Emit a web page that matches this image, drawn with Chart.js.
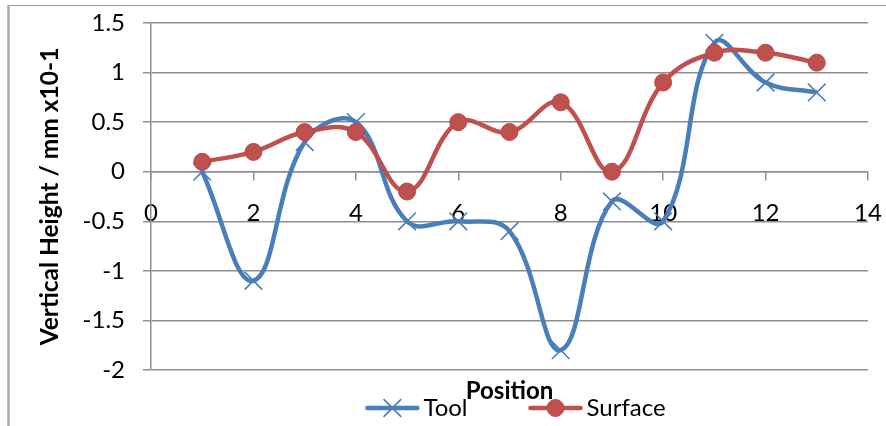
<!DOCTYPE html>
<html>
<head>
<meta charset="utf-8">
<script src="https://cdn.jsdelivr.net/npm/chart.js"></script>
<style>
  html, body { margin: 0; padding: 0; background: #ffffff; }
  #wrap { width: 886px; height: 426px; }
</style>
</head>
<body>
<div id="wrap"><canvas id="chart" width="886" height="426"></canvas></div>
<script>
// Measurement positions along the sample
const positions = [1, 2, 3, 4, 5, 6, 7, 8, 9, 10, 11, 12, 13];
// Tool profile height at each position (mm x10-1)
const toolHeights = [0, -1.1, 0.3, 0.5, -0.5, -0.5, -0.6, -1.8, -0.3, -0.5, 1.3, 0.9, 0.8];
// Machined surface height at each position (mm x10-1)
const surfaceHeights = [0.1, 0.2, 0.4, 0.4, -0.2, 0.5, 0.4, 0.7, 0, 0.9, 1.2, 1.2, 1.1];
// Axis ticks
const xTicks = [0, 2, 4, 6, 8, 10, 12, 14];
const yTicks = [-2, -1.5, -1, -0.5, 0, 0.5, 1, 1.5];
const seriesNames = ['Tool', 'Surface'];
const xAxisTitle = 'Position';
const yAxisTitle = 'Vertical Height / mm x10-1';

const FONT = 'Lato, "Open Sans", sans-serif';
const TEXT_SIZE = 24;
const GRID = '#8e8e8e';
const BLUE = '#4A7EBB';
const RED = '#C0504D';

function toPoints(xs, ys) {
  return xs.map((x, i) => ({ x: x, y: ys[i] }));
}

// Let the layout padding alone decide where the plot area sits
function clearLabelPadding(scale) {
  scale.paddingLeft = 0;
  scale.paddingRight = 0;
  scale.paddingTop = 0;
  scale.paddingBottom = 0;
}

// Outer chart frame (top and left edges)
const framePlugin = {
  id: 'frame',
  beforeDraw(chart) {
    const ctx = chart.ctx;
    ctx.save();
    ctx.strokeStyle = '#9d9d9d';
    ctx.lineWidth = 1.2;
    ctx.beginPath();
    ctx.moveTo(8, 5.5);
    ctx.lineTo(chart.width, 5.5);
    ctx.stroke();
    ctx.strokeStyle = '#ababab';
    ctx.lineWidth = 2.5;
    ctx.beginPath();
    ctx.moveTo(8.5, 5);
    ctx.lineTo(8.5, chart.height);
    ctx.stroke();
    ctx.restore();
  }
};

// Horizontal axis title under the plot
const xTitlePlugin = {
  id: 'xTitle',
  afterDraw(chart) {
    const { ctx, chartArea } = chart;
    ctx.save();
    ctx.font = 'bold ' + TEXT_SIZE + 'px ' + FONT;
    ctx.fillStyle = '#000000';
    ctx.textAlign = 'center';
    ctx.textBaseline = 'middle';
    ctx.fillText(xAxisTitle, (chartArea.left + chartArea.right) / 2, chartArea.bottom + 21);
    ctx.restore();
  }
};

// Legend showing a line sample with the series marker
const lineLegendPlugin = {
  id: 'lineLegend',
  afterDraw(chart) {
    const { ctx, chartArea } = chart;
    const lineLen = 54, textGap = 4, itemGap = 61;
    ctx.save();
    ctx.font = TEXT_SIZE + 'px ' + FONT;
    const items = chart.data.datasets.map(ds => ({ ds: ds, w: ctx.measureText(ds.label).width }));
    const total = items.reduce((s, it) => s + lineLen + textGap + it.w, 0) + itemGap * (items.length - 1);
    let x = (chartArea.left + chartArea.right) / 2 + 6 - total / 2;
    const y = chartArea.bottom + 38;
    items.forEach(({ ds, w }) => {
      ctx.strokeStyle = ds.borderColor;
      ctx.lineWidth = ds.borderWidth;
      ctx.lineCap = 'round';
      ctx.beginPath();
      ctx.moveTo(x + 2, y);
      ctx.lineTo(x + lineLen - 2, y);
      ctx.stroke();
      const cx = x + lineLen / 2;
      ctx.lineCap = 'butt';
      if (ds.pointStyle === 'circle') {
        ctx.fillStyle = ds.pointBackgroundColor;
        ctx.strokeStyle = ds.pointBorderColor;
        ctx.lineWidth = ds.pointBorderWidth;
        ctx.beginPath();
        ctx.arc(cx, y, ds.pointRadius, 0, Math.PI * 2);
        ctx.fill();
        ctx.stroke();
      } else {
        const d = ds.pointRadius * Math.SQRT1_2;
        ctx.strokeStyle = ds.pointBorderColor;
        ctx.lineWidth = ds.pointBorderWidth;
        ctx.beginPath();
        ctx.moveTo(cx - d, y - d); ctx.lineTo(cx + d, y + d);
        ctx.moveTo(cx - d, y + d); ctx.lineTo(cx + d, y - d);
        ctx.stroke();
      }
      ctx.fillStyle = '#000000';
      ctx.textAlign = 'left';
      ctx.textBaseline = 'middle';
      ctx.fillText(ds.label, x + lineLen + textGap, y);
      x += lineLen + textGap + w + itemGap;
    });
    ctx.restore();
  }
};

new Chart(document.getElementById('chart').getContext('2d'), {
  type: 'scatter',
  data: {
    datasets: [
      {
        label: seriesNames[0],
        data: toPoints(positions, toolHeights),
        showLine: true,
        tension: 0.4,
        borderColor: BLUE,
        backgroundColor: BLUE,
        borderWidth: 4.5,
        pointStyle: 'crossRot',
        pointRadius: 12.5,
        pointBorderWidth: 1.6,
        pointBorderColor: BLUE,
        pointBackgroundColor: BLUE,
        order: 1
      },
      {
        label: seriesNames[1],
        data: toPoints(positions, surfaceHeights),
        showLine: true,
        tension: 0.4,
        borderColor: RED,
        backgroundColor: RED,
        borderWidth: 4.5,
        pointStyle: 'circle',
        pointRadius: 8.5,
        pointBorderWidth: 1,
        pointBorderColor: '#B9494A',
        pointBackgroundColor: RED,
        order: 0
      }
    ]
  },
  options: {
    responsive: false,
    animation: false,
    devicePixelRatio: 1,
    layout: { padding: { left: 0, top: 23, right: 18, bottom: 56 } },
    plugins: {
      legend: { display: false },
      tooltip: { enabled: false }
    },
    scales: {
      x: {
        type: 'linear',
        position: { y: 0 },
        min: 0,
        max: 14,
        afterBuildTicks: s => { s.ticks = xTicks.map(v => ({ value: v })); },
        afterFit: clearLabelPadding,
        grid: { drawOnChartArea: false, drawTicks: true, tickLength: 8, color: GRID, lineWidth: 1.5 },
        border: { display: true, color: GRID, width: 1.5 },
        ticks: { font: { family: FONT, size: TEXT_SIZE }, color: '#000000', padding: 19, maxRotation: 0 }
      },
      y: {
        type: 'linear',
        position: 'left',
        min: -2,
        max: 1.5,
        afterBuildTicks: s => { s.ticks = yTicks.map(v => ({ value: v })); },
        afterFit: s => { s.width = 151; clearLabelPadding(s); },
        grid: { color: GRID, lineWidth: 1.5, tickLength: 8 },
        border: { display: true, color: GRID, width: 1.5 },
        ticks: {
          font: { family: FONT, size: TEXT_SIZE },
          color: '#000000',
          padding: 18,
          callback: v => String(v)
        },
        title: {
          display: true,
          text: yAxisTitle,
          font: { family: FONT, size: 24.5, weight: 'bold' },
          color: '#000000',
          padding: { top: 35, bottom: 0 }
        }
      }
    }
  },
  plugins: [framePlugin, xTitlePlugin, lineLegendPlugin]
});
</script>
</body>
</html>
